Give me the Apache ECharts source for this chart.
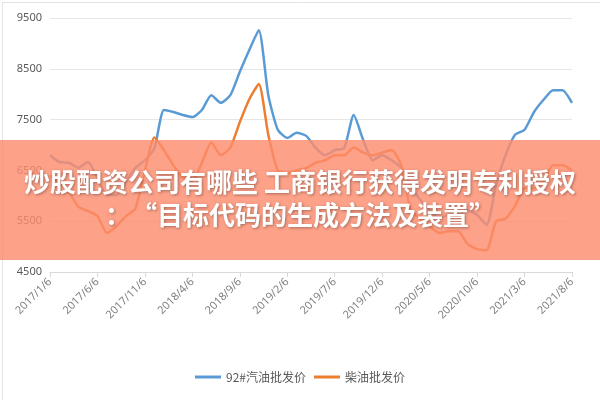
<!DOCTYPE html>
<html><head><meta charset="utf-8">
<script src="https://cdn.jsdelivr.net/npm/echarts@6/dist/echarts.min.js"></script>
<style>html,body{margin:0;padding:0;background:#fff}#c{width:600px;height:400px}</style>
</head><body><div id="c"></div>
<script>
const months = [];
for (let y = 2017; y <= 2021; y++) for (let m = 1; m <= 12; m++) { if (y === 2021 && m > 8) break; months.push(y + '/' + m + '/6'); }
const gasoline = [6800,6665,6650,6550,6665,6350,6015,6015,6270,6550,6700,6940,7690,7650,7590,7550,7690,7980,7830,7980,8440,8870,9260,7980,7300,7140,7240,7180,6940,6800,6900,6940,7590,7100,6700,6800,6700,6550,6210,5920,5720,5560,5620,5620,5720,5620,5430,6210,6800,7200,7300,7650,7890,8080,8080,7830];
const diesel = [6400,6250,6070,5780,5700,5600,5270,5400,5600,5750,6500,7150,6900,6600,6350,6300,6650,7050,6800,6950,7450,7900,8200,7200,6500,6450,6500,6550,6650,6700,6800,6800,6950,6850,6800,6850,6900,6600,5720,5550,5400,5270,5300,5300,5050,4950,4930,5500,5550,5800,6150,6150,6300,6600,6600,6500];
const seriesNames = ['92#汽油批发价', '柴油批发价'];
const chart = echarts.init(document.getElementById('c'));
chart.setOption({
  animation: false,
  grid: {left: 50, right: 28, top: 18, bottom: 128},
  legend: {bottom: 12, itemWidth: 26, itemHeight: 3, icon: 'rect', textStyle: {color: '#595959', fontSize: 12, fontFamily: 'Noto Sans CJK SC'}, data: seriesNames},
  xAxis: {type: 'category', boundaryGap: false, data: months,
    axisLine: {lineStyle: {color: '#d9d9d9'}}, axisTick: {show: true, interval: 4, lineStyle: {color: '#d9d9d9'}},
    axisLabel: {interval: 4, rotate: 45, color: '#7f7f7f', fontSize: 11, fontFamily: 'Noto Sans'}},
  yAxis: {type: 'value', min: 4500, max: 9500, interval: 1000,
    axisLine: {show: false}, axisTick: {show: false},
    axisLabel: {color: '#595959', fontSize: 11, fontFamily: 'Noto Sans', formatter: v => String(v)},
    splitLine: {lineStyle: {color: '#e6e6e6'}}},
  series: [
    {name: seriesNames[0], type: 'line', data: gasoline, smooth: 0.2, symbol: 'none', lineStyle: {width: 2.5, color: '#5b9bd5'}, itemStyle: {color: '#5b9bd5'}},
    {name: seriesNames[1], type: 'line', data: diesel, smooth: 0.2, symbol: 'none', lineStyle: {width: 2.5, color: '#ed7d31'}, itemStyle: {color: '#ed7d31'}}
  ],
  graphic: [
    {type: 'rect', left: 0, top: 0, shape: {width: 599, height: 399}, style: {fill: 'none', stroke: '#e3e3e3', lineWidth: 1}, z: 100},
    {type: 'rect', left: 0, top: 140, shape: {width: 600, height: 120}, style: {fill: 'rgba(252,140,110,0.82)'}, z: 110},
    {type: 'text', left: 'center', top: 169, style: {text: '炒股配资公司有哪些 工商银行获得发明专利授权', fill: '#fff', font: 'bold 26px "Noto Sans CJK SC"', textShadowColor: 'rgba(0,0,0,0.35)', textShadowBlur: 3, textShadowOffsetX: 1, textShadowOffsetY: 1}, z: 120},
    {type: 'text', left: 'center', top: 202, style: {text: '：“目标代码的生成方法及装置”', fill: '#fff', font: 'bold 26px "Noto Sans CJK SC"', textShadowColor: 'rgba(0,0,0,0.35)', textShadowBlur: 3, textShadowOffsetX: 1, textShadowOffsetY: 1}, z: 120}
  ]
});
</script></body></html>
